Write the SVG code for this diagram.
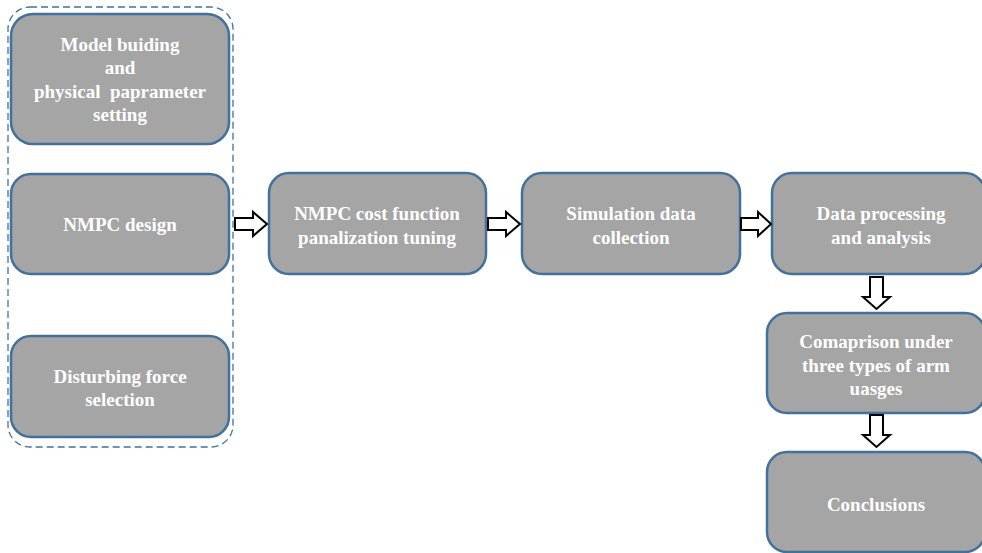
<svg xmlns="http://www.w3.org/2000/svg" width="982" height="553" viewBox="0 0 982 553">
  <defs>
    <style>
      .box { fill: #a5a5a5; stroke: #41719c; stroke-width: 2.5; }
      .grp { fill: none; stroke: #41719c; stroke-width: 1.3; stroke-dasharray: 7 4; }
      .lbl { font-family: "Liberation Serif", "Times New Roman", serif; font-weight: bold; font-size: 19px; fill: #ffffff; text-anchor: middle; }
      .arr { fill: #ffffff; stroke: #000000; stroke-width: 2; stroke-linejoin: miter; }
    </style>
  </defs>

  <!-- dashed grouping around the three preparation steps -->
  <rect class="grp" x="8" y="7" width="225" height="440" rx="22"/>

  <g id="model">
    <rect class="box" x="11" y="14" width="218" height="130" rx="22"/>
    <text class="lbl" x="120" y="51" xml:space="preserve">Model buiding</text>
    <text class="lbl" x="120" y="74">and</text>
    <text class="lbl" x="120" y="98" xml:space="preserve">physical  paprameter</text>
    <text class="lbl" x="120" y="121">setting</text>
  </g>

  <g id="nmpc-design">
    <rect class="box" x="11" y="174" width="218" height="100" rx="20"/>
    <text class="lbl" x="120" y="231">NMPC design</text>
  </g>

  <g id="disturbing">
    <rect class="box" x="11" y="336" width="218" height="101" rx="20"/>
    <text class="lbl" x="120" y="383">Disturbing force</text>
    <text class="lbl" x="120" y="406">selection</text>
  </g>

  <g id="tuning">
    <rect class="box" x="269" y="173" width="217" height="101" rx="20"/>
    <text class="lbl" x="377" y="220">NMPC cost function</text>
    <text class="lbl" x="377" y="244">panalization tuning</text>
  </g>

  <g id="simulation">
    <rect class="box" x="522" y="173" width="218" height="101" rx="20"/>
    <text class="lbl" x="631" y="220">Simulation data</text>
    <text class="lbl" x="631" y="244">collection</text>
  </g>

  <g id="processing">
    <rect class="box" x="772" y="173" width="213" height="101" rx="20"/>
    <text class="lbl" x="881" y="220">Data processing</text>
    <text class="lbl" x="881" y="244">and analysis</text>
  </g>

  <g id="comparison">
    <rect class="box" x="767" y="313" width="218" height="100" rx="20"/>
    <text class="lbl" x="876" y="348">Comaprison under</text>
    <text class="lbl" x="876" y="372">three types of arm</text>
    <text class="lbl" x="876" y="395">uasges</text>
  </g>

  <g id="conclusions">
    <rect class="box" x="767" y="452" width="218" height="100" rx="20"/>
    <text class="lbl" x="876" y="511">Conclusions</text>
  </g>

  <!-- hollow block arrows -->
  <g id="connectors">
    <polygon class="arr" points="235,218 253,218 253,212 267,224 253,236 253,230 235,230"/>
    <polygon class="arr" points="488,218 506,218 506,212 520,224 506,236 506,230 488,230"/>
    <polygon class="arr" points="741,218 758,218 758,212 771,224 758,236 758,230 741,230"/>
    <polygon class="arr" points="870,277 883,277 883,297 890,297 876.5,309 863,297 870,297"/>
    <polygon class="arr" points="870,415 883,415 883,435 890,435 876.5,447 863,435 870,435"/>
  </g>
</svg>
